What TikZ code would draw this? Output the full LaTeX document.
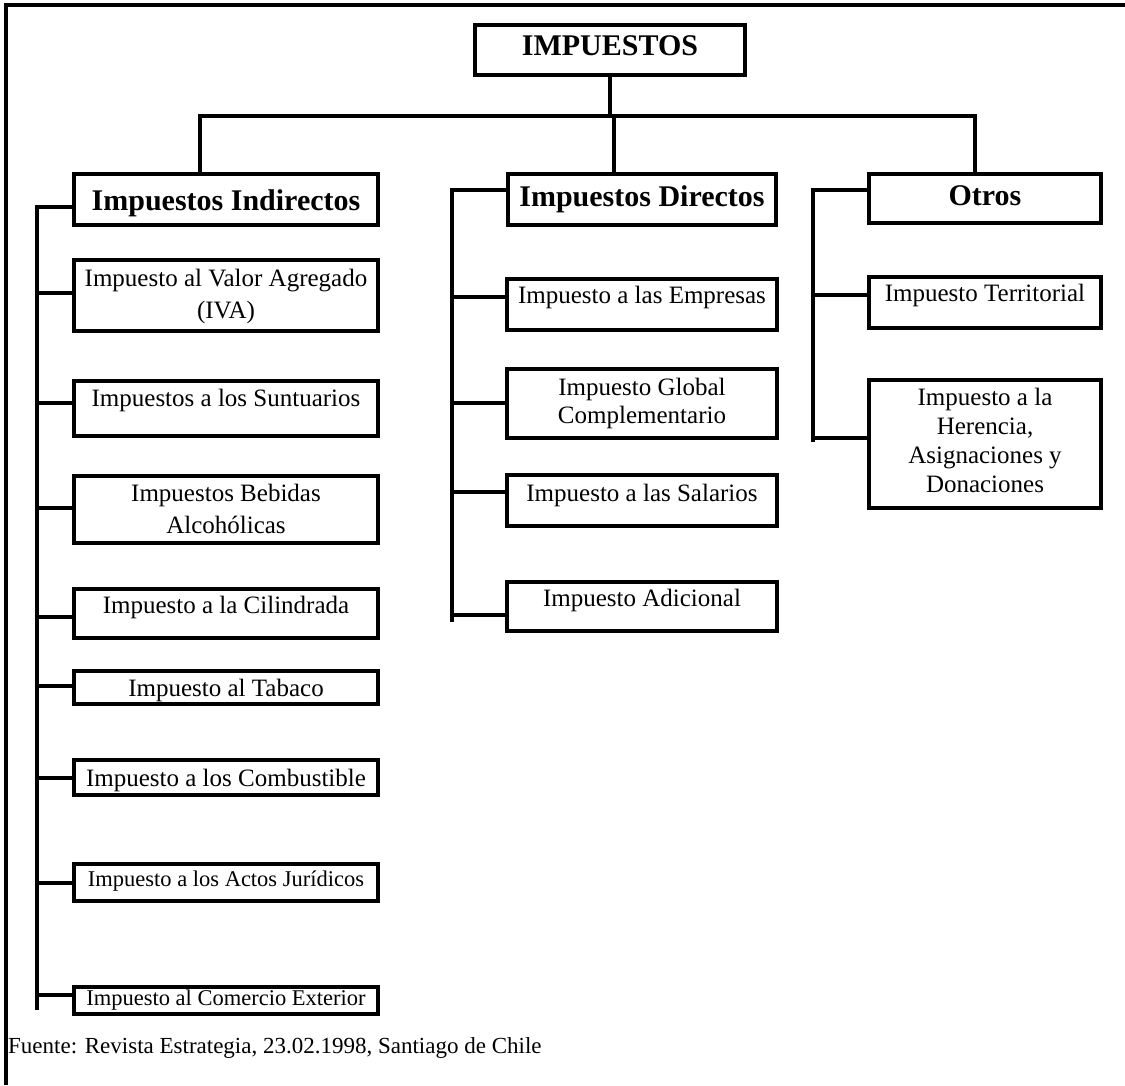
\documentclass[tikz,border=0pt]{standalone}
\usepackage{fontspec}
\setmainfont{Liberation Serif}
\tikzset{
  line/.style={line width=4pt},
  box/.style={draw, line width=4pt, inner sep=0pt},
  txt/.style={inner sep=0pt, anchor=north, align=center, font=\fontsize{25}{32}\selectfont},
  txts/.style={txt, font=\fontsize{22.5}{28}\selectfont},
  head/.style={txt, font=\fontsize{30}{36}\selectfont\bfseries},
  foot/.style={inner sep=0pt, anchor=north west, font=\fontsize{23}{28}\selectfont},
}
\newcommand\tbox[5]{\node[box, minimum width={#4-#2-4}, minimum height={#5-#3-4}] (#1) at ({(#2+#4)/2},{(#3+#5)/2}) {};}
\begin{document}
\begin{tikzpicture}[x=1pt,y=-1pt]
\useasboundingbox (0,0) rectangle (1125,1085);
% frame
\draw[line] (6,1085) -- (6,5) -- (1125,5);
% boxes
\tbox{top}{473}{23}{747}{77}
\tbox{ind}{72}{172}{380}{227}
\tbox{dir}{506}{172}{778}{227}
\tbox{otr}{867}{172}{1103}{225}
\tbox{iva}{72}{258}{380}{333}
\tbox{sun}{72}{379}{380}{438}
\tbox{beb}{72}{474}{380}{545}
\tbox{cil}{72}{587}{380}{640}
\tbox{tab}{72}{669}{380}{706}
\tbox{com}{72}{758}{380}{797}
\tbox{act}{72}{862}{380}{903}
\tbox{ext}{72}{985}{380}{1016}
\tbox{emp}{505}{277}{779}{332}
\tbox{glo}{505}{367}{779}{440}
\tbox{sal}{505}{473}{779}{528}
\tbox{adi}{505}{580}{779}{633}
\tbox{ter}{867}{275}{1103}{330}
\tbox{her}{867}{378}{1103}{510}
% texts
\node[head] (topt) at (610,35) {IMPUESTOS};
\node[head] (indt) at (226,189) {Impuestos Indirectos};
\node[head] (dirt) at (642,185) {Impuestos Directos};
\node[head] (otrt) at (985,185) {Otros};
\node[txt] (ivat) at (226,269) {Impuesto al Valor Agregado\\(IVA)};
\node[txt] (sunt) at (226,389) {Impuestos a los Suntuarios};
\node[txt] (bebt) at (226,484) {Impuestos Bebidas\\Alcohólicas};
\node[txt] (cilt) at (226,596) {Impuesto a la Cilindrada};
\node[txt] (tabt) at (226,679) {Impuesto al Tabaco};
\node[txt] (comt) at (226,769) {Impuesto a los Combustible};
\node[txts] (actt) at (226,870.5) {Impuesto a los Actos Jurídicos};
\node[txts] (extt) at (226,989.5) {Impuesto al Comercio Exterior};
\node[txt] (empt) at (642,286) {Impuesto a las Empresas};
\node[txt, font=\fontsize{25}{28}\selectfont] (glot) at (642,378) {Impuesto Global\\Complementario};
\node[txt] (salt) at (642,484) {Impuesto a las Salarios};
\node[txt] (adit) at (642,589) {Impuesto Adicional};
\node[txt] (tert) at (985,284) {Impuesto Territorial};
\node[txt, font=\fontsize{25}{29}\selectfont] (hert) at (985,388) {Impuesto a la\\Herencia,\\Asignaciones y\\Donaciones};
\node[foot] (fuente) at (8,1037) {Fuente: Revista Estrategia, 23.02.1998, Santiago de Chile};
% top level connectors
\coordinate (busL) at (200,116);
\coordinate (busR) at (975,116);
\coordinate (busM) at (614,116);
\draw[line] (busL |- ind.north) -- (busL) -- (busR) -- (busR |- otr.north);
\draw[line] (top.south) -- (top.south |- busL);
\draw[line] (busM) -- (busM |- dir.north);
% indirect spine
\coordinate (ia) at (37,207);
\coordinate (ib) at (37,1010);
\draw[line] (ib) -- (ia) -- (ia -| ind.west);
\foreach \n/\y in {iva/293, sun/403, beb/508, cil/617, tab/686, com/778, act/883, ext/995} {
  \coordinate (k\n) at (37,\y);
  \draw[line] (k\n) -- (k\n -| \n.west);
}
% direct spine
\coordinate (da) at (452,190);
\coordinate (db) at (452,622);
\draw[line] (db) -- (da) -- (da -| dir.west);
\foreach \n/\y in {emp/297, glo/403, sal/492, adi/615} {
  \coordinate (k\n) at (452,\y);
  \draw[line] (k\n) -- (k\n -| \n.west);
}
% otros spine
\coordinate (oa) at (813,190);
\coordinate (ob) at (813,442);
\draw[line] (ob) -- (oa) -- (oa -| otr.west);
\foreach \n/\y in {ter/295, her/438} {
  \coordinate (k\n) at (813,\y);
  \draw[line] (k\n) -- (k\n -| \n.west);
}
\end{tikzpicture}
\end{document}
